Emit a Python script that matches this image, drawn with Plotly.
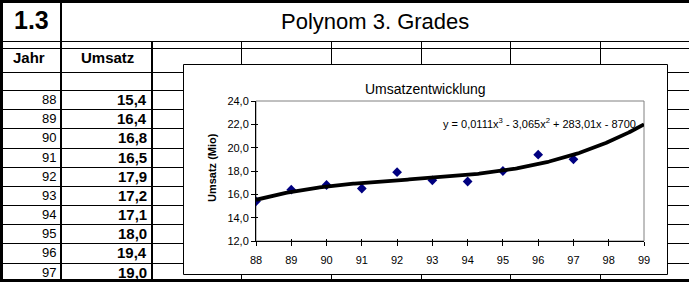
import numpy as np
import plotly.graph_objects as go

# ---------------- data ----------------
years = [88, 89, 90, 91, 92, 93, 94, 95, 96, 97]
umsatz = [15.4, 16.4, 16.8, 16.5, 17.9, 17.2, 17.1, 18.0, 19.4, 19.0]
x_ticks = list(range(88, 100))
y_ticks = [12, 14, 16, 18, 20, 22, 24]
trend_end = 99
sheet_label = "1.3"
sheet_title = "Polynom 3. Grades"
col_headers = ["Jahr", "Umsatz"]
chart_title = "Umsatzentwicklung"
y_title = "Umsatz (Mio)"
equation = "y = 0,0111x<sup>3</sup> - 3,065x<sup>2</sup> + 283,01x - 8700"

# ---------------- geometry helpers ----------------
W, H = 689, 282
def px(x):
    return x / W
def py(y):
    return 1 - y / H

FONT = "Arial, Liberation Sans, sans-serif"

# polynomial (3rd degree) trendline fitted to the data, forecast to 99
poly = np.polynomial.Polynomial.fit(years, umsatz, 3)
tx = np.linspace(years[0], trend_end, 300)
ty = poly(tx)

fig = go.Figure()
fig.add_trace(go.Scatter(
    x=years, y=umsatz, mode="markers",
    marker=dict(symbol="diamond", size=7.5, color="#000080"),
    showlegend=False, hoverinfo="skip"))
fig.add_trace(go.Scatter(
    x=tx, y=ty, mode="lines",
    line=dict(color="black", width=3.8),
    showlegend=False, hoverinfo="skip"))

shapes = []
def hline(y, x0=0, x1=W, w=1):
    shapes.append(dict(type="line", xref="paper", yref="paper",
                       x0=px(x0), x1=px(x1), y0=py(y), y1=py(y),
                       line=dict(color="black", width=w), layer="below"))
def vline(x, y0=0, y1=H, w=1):
    shapes.append(dict(type="line", xref="paper", yref="paper",
                       x0=px(x), x1=px(x), y0=py(y0), y1=py(y1),
                       line=dict(color="black", width=w), layer="below"))

# spreadsheet grid
row_h = 19.17
row_top0 = 90
for y in [41.5, 48.5, 72.5, 90.5]:
    hline(y)
for k in range(1, len(years)):
    hline(round(row_top0 + k * row_h) + 0.5)
for x in [241.5, 331.5, 421.5, 510.5, 600.5]:
    vline(x, 41, H)
vline(152, 41, H, 2)
vline(61, 0, H, 2)
# thick outer borders
hline(1.5, 0, W, 3)
hline(280.5, 0, W, 3)
vline(1.5, 0, H, 3)

# chart box
shapes.append(dict(type="rect", xref="paper", yref="paper",
                   x0=px(183.5), x1=px(667.5), y0=py(274.5), y1=py(64.5),
                   line=dict(color="black", width=1), fillcolor="white",
                   layer="below"))
# plot area border (grey)
shapes.append(dict(type="rect", xref="x domain", yref="y domain",
                   x0=0, x1=1, y0=0, y1=1,
                   line=dict(color="#808080", width=1), layer="below"))

ann = []
ann.append(dict(text="<b>" + sheet_label + "</b>", x=px(31), y=py(20), xref="paper",
                yref="paper", showarrow=False,
                font=dict(family=FONT, size=25, color="black"),
                xanchor="center", yanchor="middle"))
ann.append(dict(text=sheet_title, x=px(375), y=py(21), xref="paper", yref="paper",
                showarrow=False, font=dict(family=FONT, size=22, color="black"),
                xanchor="center", yanchor="middle"))
ann.append(dict(text="<b>" + col_headers[0] + "</b>", x=px(29), y=py(58), xref="paper",
                yref="paper", showarrow=False,
                font=dict(family=FONT, size=15, color="black"),
                xanchor="center", yanchor="middle"))
ann.append(dict(text="<b>" + col_headers[1] + "</b>", x=px(107), y=py(58), xref="paper",
                yref="paper", showarrow=False,
                font=dict(family=FONT, size=15, color="black"),
                xanchor="center", yanchor="middle"))
for k, (yr, v) in enumerate(zip(years, umsatz)):
    yc = row_top0 + (k + 0.5) * row_h
    ann.append(dict(text=str(yr), x=px(58), y=py(yc), xref="paper", yref="paper",
                    showarrow=False, font=dict(family=FONT, size=13, color="black"),
                    xanchor="right", yanchor="middle"))
    ann.append(dict(text="<b>" + f"{v:.1f}".replace(".", ",") + "</b>",
                    x=px(149), y=py(yc), xref="paper", yref="paper",
                    showarrow=False, font=dict(family=FONT, size=15, color="black"),
                    xanchor="right", yanchor="middle"))

ann.append(dict(text=chart_title, x=px(425), y=py(88.5), xref="paper", yref="paper",
                showarrow=False, font=dict(family=FONT, size=14, color="black"),
                xanchor="center", yanchor="middle"))
ann.append(dict(text="<b>" + y_title + "</b>", x=px(212), y=py(168), xref="paper",
                yref="paper", showarrow=False, textangle=-90,
                font=dict(family=FONT, size=11, color="black"),
                xanchor="center", yanchor="middle"))
ann.append(dict(text=equation, x=px(539), y=py(123), xref="paper", yref="paper",
                showarrow=False, font=dict(family=FONT, size=11, color="black"),
                xanchor="center", yanchor="middle"))

axis_common = dict(showgrid=False, zeroline=False, showline=True, automargin=False,
                   linecolor="black", linewidth=1, tickcolor="black",
                   tickfont=dict(family=FONT, size=11, color="black"))

fig.update_layout(
    width=W, height=H, autosize=False,
    margin=dict(l=0, r=0, t=0, b=0, pad=0, autoexpand=False),
    paper_bgcolor="white", plot_bgcolor="rgba(0,0,0,0)",
    separators=",.",
    showlegend=False,
    shapes=shapes, annotations=ann,
    xaxis=dict(domain=[px(256), px(644)], range=[88, 99], tickvals=x_ticks,
               ticks="outside", ticklen=4, ticklabelstandoff=5, anchor="y",
               **axis_common),
    yaxis=dict(domain=[py(241), py(101)], range=[12, 24], tickvals=y_ticks,
               tickformat=".1f", ticks="outside", ticklen=4, anchor="x",
               **axis_common),
    xaxis2=dict(overlaying="x", anchor="y", range=[88, 99], tickvals=x_ticks,
                ticks="inside", ticklen=2, showticklabels=False, showgrid=False,
                automargin=False, zeroline=False, showline=False, tickcolor="black",
                side="bottom"),
    yaxis2=dict(overlaying="y", anchor="x", range=[12, 24], tickvals=y_ticks,
                ticks="inside", ticklen=2, showticklabels=False, showgrid=False,
                automargin=False, zeroline=False, showline=False, tickcolor="black",
                side="left"),
)
fig.add_trace(go.Scatter(x=[None], y=[None], xaxis="x2", yaxis="y2",
                         showlegend=False, hoverinfo="skip"))

fig.write_html("out.html")
